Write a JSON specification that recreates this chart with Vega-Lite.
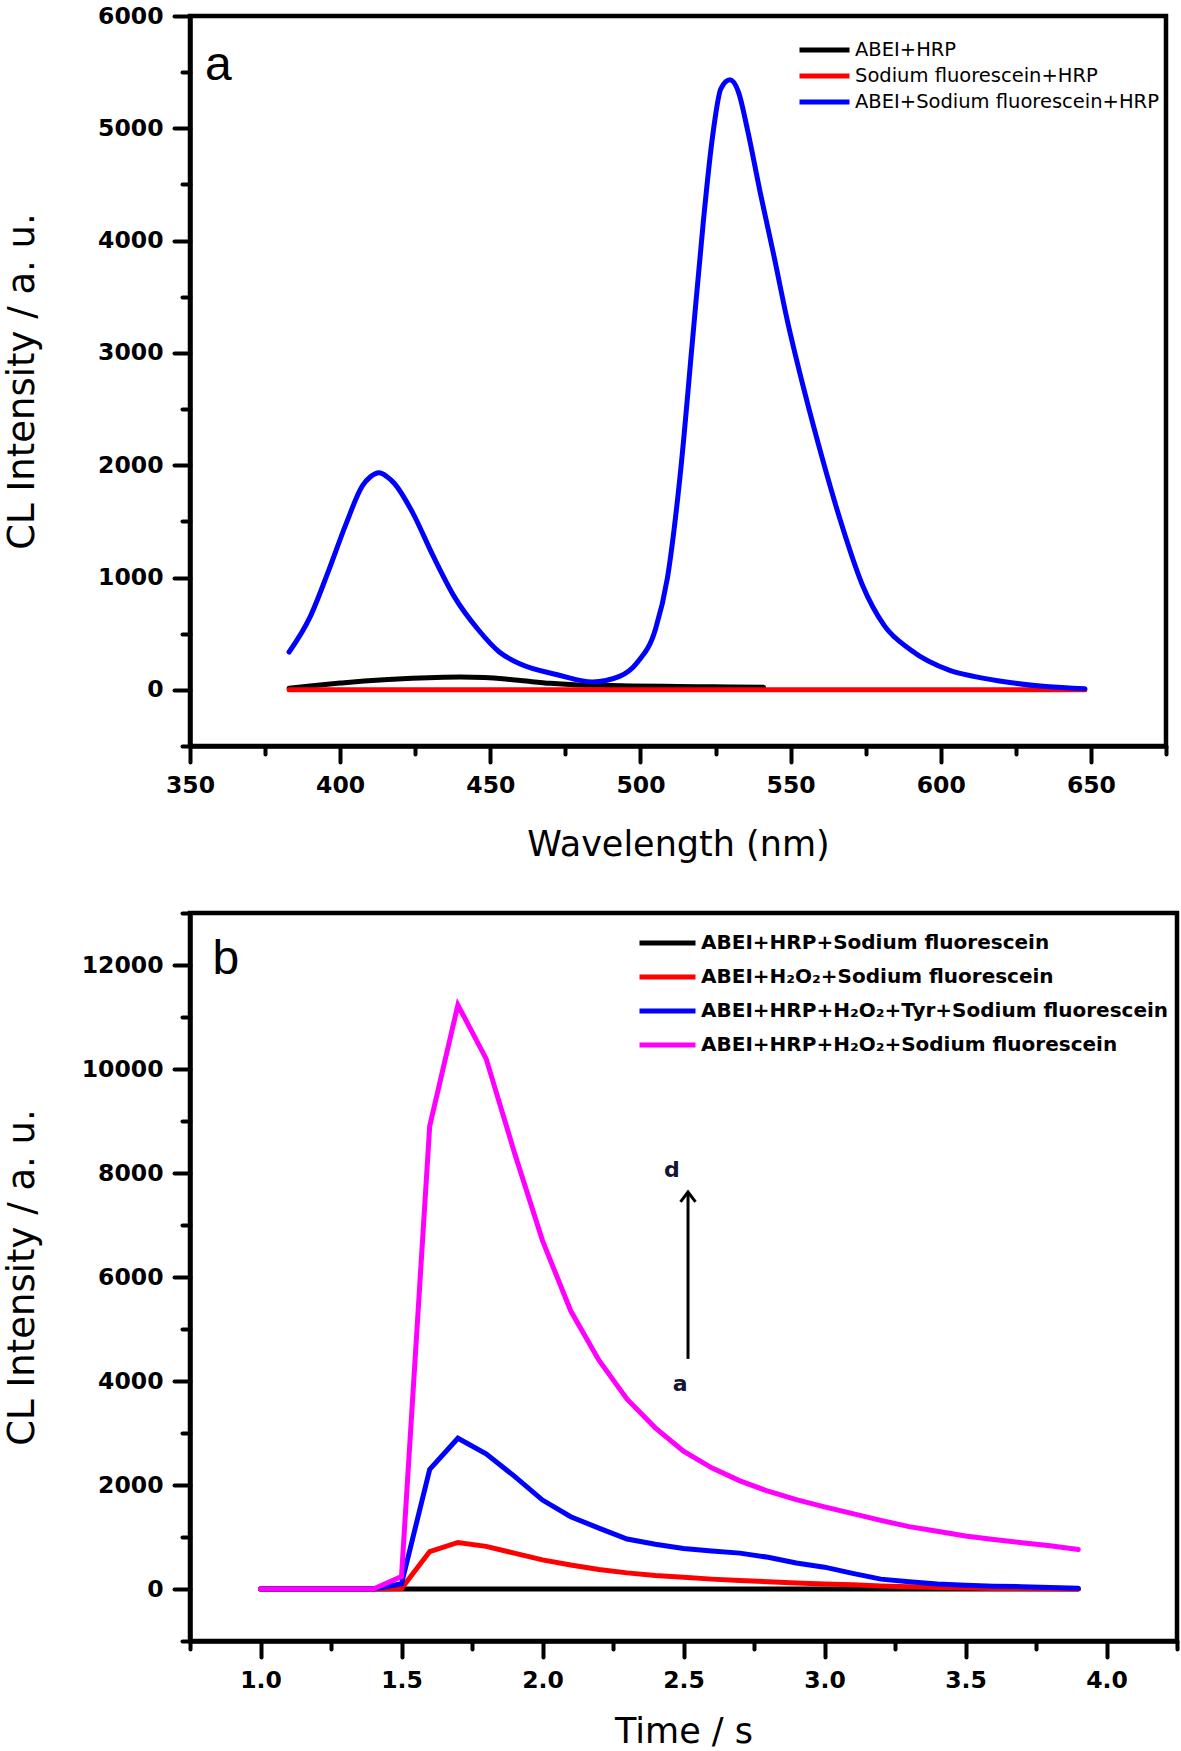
{
  "$schema": "https://vega.github.io/schema/vega-lite/v6.json",
  "background": "white",
  "padding": {"left": 0, "top": 1, "right": 0, "bottom": 0},
  "spacing": 33,
  "resolve": {"scale": {"color": "independent", "x": "independent", "y": "independent"}},
  "datasets": {
    "specA": [
      {"w": 383, "v": 15, "s": "ABEI+HRP"},
      {"w": 390, "v": 35, "s": "ABEI+HRP"},
      {"w": 400, "v": 60, "s": "ABEI+HRP"},
      {"w": 408, "v": 78, "s": "ABEI+HRP"},
      {"w": 416, "v": 92, "s": "ABEI+HRP"},
      {"w": 424, "v": 103, "s": "ABEI+HRP"},
      {"w": 432, "v": 111, "s": "ABEI+HRP"},
      {"w": 440, "v": 115, "s": "ABEI+HRP"},
      {"w": 448, "v": 110, "s": "ABEI+HRP"},
      {"w": 455, "v": 97, "s": "ABEI+HRP"},
      {"w": 462, "v": 78, "s": "ABEI+HRP"},
      {"w": 470, "v": 58, "s": "ABEI+HRP"},
      {"w": 478, "v": 46, "s": "ABEI+HRP"},
      {"w": 487, "v": 40, "s": "ABEI+HRP"},
      {"w": 497, "v": 35, "s": "ABEI+HRP"},
      {"w": 508, "v": 31, "s": "ABEI+HRP"},
      {"w": 519, "v": 28, "s": "ABEI+HRP"},
      {"w": 530, "v": 26, "s": "ABEI+HRP"},
      {"w": 541, "v": 24, "s": "ABEI+HRP"},
      {"w": 383, "v": 0, "s": "Sodium fluorescein+HRP"},
      {"w": 420, "v": 0, "s": "Sodium fluorescein+HRP"},
      {"w": 460, "v": 0, "s": "Sodium fluorescein+HRP"},
      {"w": 500, "v": 0, "s": "Sodium fluorescein+HRP"},
      {"w": 540, "v": 0, "s": "Sodium fluorescein+HRP"},
      {"w": 580, "v": 0, "s": "Sodium fluorescein+HRP"},
      {"w": 620, "v": 0, "s": "Sodium fluorescein+HRP"},
      {"w": 648, "v": 0, "s": "Sodium fluorescein+HRP"},
      {"w": 383, "v": 337, "s": "ABEI+Sodium fluorescein+HRP"},
      {"w": 390, "v": 650, "s": "ABEI+Sodium fluorescein+HRP"},
      {"w": 396, "v": 1050, "s": "ABEI+Sodium fluorescein+HRP"},
      {"w": 402, "v": 1480, "s": "ABEI+Sodium fluorescein+HRP"},
      {"w": 407.5, "v": 1820, "s": "ABEI+Sodium fluorescein+HRP"},
      {"w": 410, "v": 1895, "s": "ABEI+Sodium fluorescein+HRP"},
      {"w": 413, "v": 1932, "s": "ABEI+Sodium fluorescein+HRP"},
      {"w": 415.5, "v": 1900, "s": "ABEI+Sodium fluorescein+HRP"},
      {"w": 418, "v": 1840, "s": "ABEI+Sodium fluorescein+HRP"},
      {"w": 424, "v": 1585, "s": "ABEI+Sodium fluorescein+HRP"},
      {"w": 431, "v": 1190, "s": "ABEI+Sodium fluorescein+HRP"},
      {"w": 438, "v": 830, "s": "ABEI+Sodium fluorescein+HRP"},
      {"w": 446, "v": 535, "s": "ABEI+Sodium fluorescein+HRP"},
      {"w": 453, "v": 337, "s": "ABEI+Sodium fluorescein+HRP"},
      {"w": 460, "v": 230, "s": "ABEI+Sodium fluorescein+HRP"},
      {"w": 472, "v": 137, "s": "ABEI+Sodium fluorescein+HRP"},
      {"w": 484, "v": 70, "s": "ABEI+Sodium fluorescein+HRP"},
      {"w": 493, "v": 120, "s": "ABEI+Sodium fluorescein+HRP"},
      {"w": 499, "v": 246, "s": "ABEI+Sodium fluorescein+HRP"},
      {"w": 505, "v": 540, "s": "ABEI+Sodium fluorescein+HRP"},
      {"w": 509, "v": 1000, "s": "ABEI+Sodium fluorescein+HRP"},
      {"w": 513.5, "v": 1985, "s": "ABEI+Sodium fluorescein+HRP"},
      {"w": 517.2, "v": 3072, "s": "ABEI+Sodium fluorescein+HRP"},
      {"w": 520.9, "v": 4159, "s": "ABEI+Sodium fluorescein+HRP"},
      {"w": 523.8, "v": 4884, "s": "ABEI+Sodium fluorescein+HRP"},
      {"w": 526.8, "v": 5354, "s": "ABEI+Sodium fluorescein+HRP"},
      {"w": 529.8, "v": 5432, "s": "ABEI+Sodium fluorescein+HRP"},
      {"w": 532.7, "v": 5318, "s": "ABEI+Sodium fluorescein+HRP"},
      {"w": 535.6, "v": 4992, "s": "ABEI+Sodium fluorescein+HRP"},
      {"w": 540, "v": 4412, "s": "ABEI+Sodium fluorescein+HRP"},
      {"w": 544.4, "v": 3869, "s": "ABEI+Sodium fluorescein+HRP"},
      {"w": 548.9, "v": 3289, "s": "ABEI+Sodium fluorescein+HRP"},
      {"w": 554.8, "v": 2637, "s": "ABEI+Sodium fluorescein+HRP"},
      {"w": 560.6, "v": 2057, "s": "ABEI+Sodium fluorescein+HRP"},
      {"w": 566.5, "v": 1514, "s": "ABEI+Sodium fluorescein+HRP"},
      {"w": 573.9, "v": 934, "s": "ABEI+Sodium fluorescein+HRP"},
      {"w": 581.2, "v": 572, "s": "ABEI+Sodium fluorescein+HRP"},
      {"w": 590, "v": 355, "s": "ABEI+Sodium fluorescein+HRP"},
      {"w": 603, "v": 174, "s": "ABEI+Sodium fluorescein+HRP"},
      {"w": 611, "v": 120, "s": "ABEI+Sodium fluorescein+HRP"},
      {"w": 623, "v": 65, "s": "ABEI+Sodium fluorescein+HRP"},
      {"w": 635, "v": 30, "s": "ABEI+Sodium fluorescein+HRP"},
      {"w": 648, "v": 10, "s": "ABEI+Sodium fluorescein+HRP"}
    ],
    "specB": [
      {"t": 1.0, "v": 0, "s": "ABEI+HRP+Sodium fluorescein"},
      {"t": 1.1, "v": 0, "s": "ABEI+HRP+Sodium fluorescein"},
      {"t": 1.2, "v": 0, "s": "ABEI+HRP+Sodium fluorescein"},
      {"t": 1.3, "v": 0, "s": "ABEI+HRP+Sodium fluorescein"},
      {"t": 1.4, "v": 0, "s": "ABEI+HRP+Sodium fluorescein"},
      {"t": 1.5, "v": 0, "s": "ABEI+HRP+Sodium fluorescein"},
      {"t": 1.6, "v": 0, "s": "ABEI+HRP+Sodium fluorescein"},
      {"t": 1.7, "v": 0, "s": "ABEI+HRP+Sodium fluorescein"},
      {"t": 1.8, "v": 0, "s": "ABEI+HRP+Sodium fluorescein"},
      {"t": 1.9, "v": 0, "s": "ABEI+HRP+Sodium fluorescein"},
      {"t": 2.0, "v": 0, "s": "ABEI+HRP+Sodium fluorescein"},
      {"t": 2.1, "v": 0, "s": "ABEI+HRP+Sodium fluorescein"},
      {"t": 2.2, "v": 0, "s": "ABEI+HRP+Sodium fluorescein"},
      {"t": 2.3, "v": 0, "s": "ABEI+HRP+Sodium fluorescein"},
      {"t": 2.4, "v": 0, "s": "ABEI+HRP+Sodium fluorescein"},
      {"t": 2.5, "v": 0, "s": "ABEI+HRP+Sodium fluorescein"},
      {"t": 2.6, "v": 0, "s": "ABEI+HRP+Sodium fluorescein"},
      {"t": 2.7, "v": 0, "s": "ABEI+HRP+Sodium fluorescein"},
      {"t": 2.8, "v": 0, "s": "ABEI+HRP+Sodium fluorescein"},
      {"t": 2.9, "v": 0, "s": "ABEI+HRP+Sodium fluorescein"},
      {"t": 3.0, "v": 0, "s": "ABEI+HRP+Sodium fluorescein"},
      {"t": 3.1, "v": 0, "s": "ABEI+HRP+Sodium fluorescein"},
      {"t": 3.2, "v": 0, "s": "ABEI+HRP+Sodium fluorescein"},
      {"t": 3.3, "v": 0, "s": "ABEI+HRP+Sodium fluorescein"},
      {"t": 3.4, "v": 0, "s": "ABEI+HRP+Sodium fluorescein"},
      {"t": 3.5, "v": 0, "s": "ABEI+HRP+Sodium fluorescein"},
      {"t": 3.6, "v": 0, "s": "ABEI+HRP+Sodium fluorescein"},
      {"t": 3.7, "v": 0, "s": "ABEI+HRP+Sodium fluorescein"},
      {"t": 3.8, "v": 0, "s": "ABEI+HRP+Sodium fluorescein"},
      {"t": 3.9, "v": 0, "s": "ABEI+HRP+Sodium fluorescein"},
      {"t": 1.0, "v": 0, "s": "ABEI+H₂O₂+Sodium fluorescein"},
      {"t": 1.1, "v": 0, "s": "ABEI+H₂O₂+Sodium fluorescein"},
      {"t": 1.2, "v": 0, "s": "ABEI+H₂O₂+Sodium fluorescein"},
      {"t": 1.3, "v": 0, "s": "ABEI+H₂O₂+Sodium fluorescein"},
      {"t": 1.4, "v": 0, "s": "ABEI+H₂O₂+Sodium fluorescein"},
      {"t": 1.5, "v": 10, "s": "ABEI+H₂O₂+Sodium fluorescein"},
      {"t": 1.6, "v": 720, "s": "ABEI+H₂O₂+Sodium fluorescein"},
      {"t": 1.7, "v": 895, "s": "ABEI+H₂O₂+Sodium fluorescein"},
      {"t": 1.8, "v": 820, "s": "ABEI+H₂O₂+Sodium fluorescein"},
      {"t": 1.9, "v": 690, "s": "ABEI+H₂O₂+Sodium fluorescein"},
      {"t": 2.0, "v": 560, "s": "ABEI+H₂O₂+Sodium fluorescein"},
      {"t": 2.1, "v": 460, "s": "ABEI+H₂O₂+Sodium fluorescein"},
      {"t": 2.2, "v": 375, "s": "ABEI+H₂O₂+Sodium fluorescein"},
      {"t": 2.3, "v": 310, "s": "ABEI+H₂O₂+Sodium fluorescein"},
      {"t": 2.4, "v": 260, "s": "ABEI+H₂O₂+Sodium fluorescein"},
      {"t": 2.5, "v": 225, "s": "ABEI+H₂O₂+Sodium fluorescein"},
      {"t": 2.6, "v": 190, "s": "ABEI+H₂O₂+Sodium fluorescein"},
      {"t": 2.7, "v": 165, "s": "ABEI+H₂O₂+Sodium fluorescein"},
      {"t": 2.8, "v": 140, "s": "ABEI+H₂O₂+Sodium fluorescein"},
      {"t": 2.9, "v": 115, "s": "ABEI+H₂O₂+Sodium fluorescein"},
      {"t": 3.0, "v": 97, "s": "ABEI+H₂O₂+Sodium fluorescein"},
      {"t": 3.1, "v": 80, "s": "ABEI+H₂O₂+Sodium fluorescein"},
      {"t": 3.2, "v": 60, "s": "ABEI+H₂O₂+Sodium fluorescein"},
      {"t": 3.3, "v": 45, "s": "ABEI+H₂O₂+Sodium fluorescein"},
      {"t": 3.4, "v": 30, "s": "ABEI+H₂O₂+Sodium fluorescein"},
      {"t": 3.5, "v": 20, "s": "ABEI+H₂O₂+Sodium fluorescein"},
      {"t": 3.6, "v": 12, "s": "ABEI+H₂O₂+Sodium fluorescein"},
      {"t": 3.7, "v": 8, "s": "ABEI+H₂O₂+Sodium fluorescein"},
      {"t": 3.8, "v": 5, "s": "ABEI+H₂O₂+Sodium fluorescein"},
      {"t": 3.9, "v": 0, "s": "ABEI+H₂O₂+Sodium fluorescein"},
      {"t": 1.0, "v": 0, "s": "ABEI+HRP+H₂O₂+Tyr+Sodium fluorescein"},
      {"t": 1.1, "v": 0, "s": "ABEI+HRP+H₂O₂+Tyr+Sodium fluorescein"},
      {"t": 1.2, "v": 0, "s": "ABEI+HRP+H₂O₂+Tyr+Sodium fluorescein"},
      {"t": 1.3, "v": 0, "s": "ABEI+HRP+H₂O₂+Tyr+Sodium fluorescein"},
      {"t": 1.4, "v": 0, "s": "ABEI+HRP+H₂O₂+Tyr+Sodium fluorescein"},
      {"t": 1.5, "v": 100, "s": "ABEI+HRP+H₂O₂+Tyr+Sodium fluorescein"},
      {"t": 1.6, "v": 2300, "s": "ABEI+HRP+H₂O₂+Tyr+Sodium fluorescein"},
      {"t": 1.7, "v": 2900, "s": "ABEI+HRP+H₂O₂+Tyr+Sodium fluorescein"},
      {"t": 1.8, "v": 2600, "s": "ABEI+HRP+H₂O₂+Tyr+Sodium fluorescein"},
      {"t": 1.9, "v": 2170, "s": "ABEI+HRP+H₂O₂+Tyr+Sodium fluorescein"},
      {"t": 2.0, "v": 1710, "s": "ABEI+HRP+H₂O₂+Tyr+Sodium fluorescein"},
      {"t": 2.1, "v": 1390, "s": "ABEI+HRP+H₂O₂+Tyr+Sodium fluorescein"},
      {"t": 2.2, "v": 1170, "s": "ABEI+HRP+H₂O₂+Tyr+Sodium fluorescein"},
      {"t": 2.3, "v": 960, "s": "ABEI+HRP+H₂O₂+Tyr+Sodium fluorescein"},
      {"t": 2.4, "v": 860, "s": "ABEI+HRP+H₂O₂+Tyr+Sodium fluorescein"},
      {"t": 2.5, "v": 780, "s": "ABEI+HRP+H₂O₂+Tyr+Sodium fluorescein"},
      {"t": 2.6, "v": 730, "s": "ABEI+HRP+H₂O₂+Tyr+Sodium fluorescein"},
      {"t": 2.7, "v": 690, "s": "ABEI+HRP+H₂O₂+Tyr+Sodium fluorescein"},
      {"t": 2.8, "v": 610, "s": "ABEI+HRP+H₂O₂+Tyr+Sodium fluorescein"},
      {"t": 2.9, "v": 500, "s": "ABEI+HRP+H₂O₂+Tyr+Sodium fluorescein"},
      {"t": 3.0, "v": 420, "s": "ABEI+HRP+H₂O₂+Tyr+Sodium fluorescein"},
      {"t": 3.1, "v": 300, "s": "ABEI+HRP+H₂O₂+Tyr+Sodium fluorescein"},
      {"t": 3.2, "v": 190, "s": "ABEI+HRP+H₂O₂+Tyr+Sodium fluorescein"},
      {"t": 3.3, "v": 140, "s": "ABEI+HRP+H₂O₂+Tyr+Sodium fluorescein"},
      {"t": 3.4, "v": 95, "s": "ABEI+HRP+H₂O₂+Tyr+Sodium fluorescein"},
      {"t": 3.5, "v": 70, "s": "ABEI+HRP+H₂O₂+Tyr+Sodium fluorescein"},
      {"t": 3.6, "v": 55, "s": "ABEI+HRP+H₂O₂+Tyr+Sodium fluorescein"},
      {"t": 3.7, "v": 45, "s": "ABEI+HRP+H₂O₂+Tyr+Sodium fluorescein"},
      {"t": 3.8, "v": 30, "s": "ABEI+HRP+H₂O₂+Tyr+Sodium fluorescein"},
      {"t": 3.9, "v": 15, "s": "ABEI+HRP+H₂O₂+Tyr+Sodium fluorescein"},
      {"t": 1.0, "v": 0, "s": "ABEI+HRP+H₂O₂+Sodium fluorescein"},
      {"t": 1.1, "v": 0, "s": "ABEI+HRP+H₂O₂+Sodium fluorescein"},
      {"t": 1.2, "v": 0, "s": "ABEI+HRP+H₂O₂+Sodium fluorescein"},
      {"t": 1.3, "v": 0, "s": "ABEI+HRP+H₂O₂+Sodium fluorescein"},
      {"t": 1.4, "v": 0, "s": "ABEI+HRP+H₂O₂+Sodium fluorescein"},
      {"t": 1.5, "v": 240, "s": "ABEI+HRP+H₂O₂+Sodium fluorescein"},
      {"t": 1.6, "v": 8900, "s": "ABEI+HRP+H₂O₂+Sodium fluorescein"},
      {"t": 1.7, "v": 11230, "s": "ABEI+HRP+H₂O₂+Sodium fluorescein"},
      {"t": 1.8, "v": 10200, "s": "ABEI+HRP+H₂O₂+Sodium fluorescein"},
      {"t": 1.9, "v": 8400, "s": "ABEI+HRP+H₂O₂+Sodium fluorescein"},
      {"t": 2.0, "v": 6700, "s": "ABEI+HRP+H₂O₂+Sodium fluorescein"},
      {"t": 2.1, "v": 5350, "s": "ABEI+HRP+H₂O₂+Sodium fluorescein"},
      {"t": 2.2, "v": 4400, "s": "ABEI+HRP+H₂O₂+Sodium fluorescein"},
      {"t": 2.3, "v": 3650, "s": "ABEI+HRP+H₂O₂+Sodium fluorescein"},
      {"t": 2.4, "v": 3100, "s": "ABEI+HRP+H₂O₂+Sodium fluorescein"},
      {"t": 2.5, "v": 2650, "s": "ABEI+HRP+H₂O₂+Sodium fluorescein"},
      {"t": 2.6, "v": 2330, "s": "ABEI+HRP+H₂O₂+Sodium fluorescein"},
      {"t": 2.7, "v": 2080, "s": "ABEI+HRP+H₂O₂+Sodium fluorescein"},
      {"t": 2.8, "v": 1880, "s": "ABEI+HRP+H₂O₂+Sodium fluorescein"},
      {"t": 2.9, "v": 1720, "s": "ABEI+HRP+H₂O₂+Sodium fluorescein"},
      {"t": 3.0, "v": 1580, "s": "ABEI+HRP+H₂O₂+Sodium fluorescein"},
      {"t": 3.1, "v": 1450, "s": "ABEI+HRP+H₂O₂+Sodium fluorescein"},
      {"t": 3.2, "v": 1320, "s": "ABEI+HRP+H₂O₂+Sodium fluorescein"},
      {"t": 3.3, "v": 1200, "s": "ABEI+HRP+H₂O₂+Sodium fluorescein"},
      {"t": 3.4, "v": 1110, "s": "ABEI+HRP+H₂O₂+Sodium fluorescein"},
      {"t": 3.5, "v": 1020, "s": "ABEI+HRP+H₂O₂+Sodium fluorescein"},
      {"t": 3.6, "v": 950, "s": "ABEI+HRP+H₂O₂+Sodium fluorescein"},
      {"t": 3.7, "v": 890, "s": "ABEI+HRP+H₂O₂+Sodium fluorescein"},
      {"t": 3.8, "v": 830, "s": "ABEI+HRP+H₂O₂+Sodium fluorescein"},
      {"t": 3.9, "v": 760, "s": "ABEI+HRP+H₂O₂+Sodium fluorescein"}
    ]
  },
  "vconcat": [
    {
      "width": 976,
      "height": 730,
      "layer": [
        {
          "data": {"name": "specA"},
          "mark": {"type": "line", "strokeWidth": 5, "interpolate": "monotone", "strokeCap": "round"},
          "encoding": {
            "x": {"field": "w", "type": "quantitative",
              "scale": {"domain": [350, 675], "nice": false, "zero": false},
              "axis": {"title": "Wavelength (nm)", "titleFontSize": 35, "titlePadding": 31, "format": "d",
                "values": [350, 375, 400, 425, 450, 475, 500, 525, 550, 575, 600, 625, 650, 675],
                "labelExpr": "datum.value % 50 === 0 ? datum.label : ''",
                "labelPadding": 11,
                "tickSize": {"condition": {"test": "datum.value % 50 === 0", "value": 16}, "value": 8}}},
            "y": {"field": "v", "type": "quantitative",
              "scale": {"domain": [-500, 6000], "nice": false, "zero": false},
              "axis": {"title": "CL Intensity / a. u.", "titleFontSize": 37, "titlePadding": 56, "format": "d",
                "values": [-500, 0, 500, 1000, 1500, 2000, 2500, 3000, 3500, 4000, 4500, 5000, 5500, 6000],
                "labelExpr": "datum.value % 1000 === 0 ? datum.label : ''",
                "labelPadding": 11,
                "tickSize": {"condition": {"test": "datum.value % 1000 === 0", "value": 16}, "value": 8}}},
            "color": {"field": "s", "type": "nominal", "sort": null,
              "scale": {"domain": ["ABEI+HRP", "Sodium fluorescein+HRP", "ABEI+Sodium fluorescein+HRP"],
                "range": ["#000000", "#ff0000", "#0000ff"]},
              "legend": {"title": null, "orient": "none", "legendX": 607, "legendY": 23, "padding": 0,
                "symbolType": "stroke", "symbolSize": 2500, "symbolStrokeWidth": 5, "symbolOffset": 0,
                "clipHeight": 22,
                "labelFont": "DejaVu Sans", "labelFontSize": 19.5, "labelFontWeight": "normal", "labelColor": "black",
                "labelOffset": 3, "rowPadding": 4, "labelLimit": 600}}
          }
        },
        {
          "data": {"values": [{"w": 355, "v": 5430, "label": "a"}]},
          "mark": {"type": "text", "font": "Liberation Sans", "fontSize": 48, "align": "left", "baseline": "alphabetic", "color": "black"},
          "encoding": {
            "x": {"field": "w", "type": "quantitative"},
            "y": {"field": "v", "type": "quantitative"},
            "text": {"field": "label"}
          }
        }
      ]
    },
    {
      "width": 987,
      "height": 728,
      "layer": [
        {
          "data": {"name": "specB"},
          "mark": {"type": "line", "strokeWidth": 5, "strokeCap": "round"},
          "encoding": {
            "x": {"field": "t", "type": "quantitative",
              "scale": {"domain": [0.75, 4.25], "nice": false, "zero": false},
              "axis": {"title": "Time / s", "titleFontSize": 35, "titlePadding": 23, "format": ".1f",
                "values": [0.75, 1.0, 1.25, 1.5, 1.75, 2.0, 2.25, 2.5, 2.75, 3.0, 3.25, 3.5, 3.75, 4.0, 4.25],
                "labelExpr": "abs(datum.value * 2 - round(datum.value * 2)) < 0.001 ? datum.label : ''",
                "labelPadding": 11,
                "tickSize": {"condition": {"test": "abs(datum.value * 2 - round(datum.value * 2)) < 0.001", "value": 16}, "value": 8}}},
            "y": {"field": "v", "type": "quantitative",
              "scale": {"domain": [-1000, 13000], "nice": false, "zero": false},
              "axis": {"title": "CL Intensity / a. u.", "titleFontSize": 37, "titlePadding": 40, "format": "d",
                "values": [-1000, 0, 1000, 2000, 3000, 4000, 5000, 6000, 7000, 8000, 9000, 10000, 11000, 12000, 13000],
                "labelExpr": "datum.value % 2000 === 0 ? datum.label : ''",
                "labelPadding": 11,
                "tickSize": {"condition": {"test": "datum.value % 2000 === 0", "value": 16}, "value": 8}}},
            "color": {"field": "s", "type": "nominal", "sort": null,
              "scale": {"domain": ["ABEI+HRP+Sodium fluorescein", "ABEI+H₂O₂+Sodium fluorescein", "ABEI+HRP+H₂O₂+Tyr+Sodium fluorescein", "ABEI+HRP+H₂O₂+Sodium fluorescein"],
                "range": ["#000000", "#ff0000", "#0000ff", "#ff00ff"]},
              "legend": {"title": null, "orient": "none", "legendX": 447, "legendY": 18, "padding": 0,
                "symbolType": "stroke", "symbolSize": 3136, "symbolStrokeWidth": 5, "symbolOffset": 0,
                "clipHeight": 24,
                "labelFont": "DejaVu Sans", "labelFontSize": 20, "labelFontWeight": "bold", "labelColor": "black",
                "labelOffset": 3, "rowPadding": 10, "labelLimit": 700}}
          }
        },
        {
          "data": {"values": [{"t": 2.516, "v": 4425, "v2": 7610}]},
          "mark": {"type": "rule", "color": "black", "strokeWidth": 3},
          "encoding": {
            "x": {"field": "t", "type": "quantitative"},
            "y": {"field": "v", "type": "quantitative"},
            "y2": {"field": "v2"}
          }
        },
        {
          "data": {"values": [{"t": 2.516, "v": 7633}]},
          "mark": {"type": "point", "shape": "M-1,1.3L0,0L1,1.3", "size": 225, "filled": false, "stroke": "black", "strokeWidth": 3, "opacity": 1},
          "encoding": {
            "x": {"field": "t", "type": "quantitative"},
            "y": {"field": "v", "type": "quantitative"}
          }
        },
        {
          "data": {"values": [{"t": 2.459, "v": 8058, "label": "d"}, {"t": 2.488, "v": 3942, "label": "a"}]},
          "mark": {"type": "text", "font": "DejaVu Sans", "fontWeight": "bold", "fontSize": 22, "align": "center", "baseline": "middle", "color": "#141432"},
          "encoding": {
            "x": {"field": "t", "type": "quantitative"},
            "y": {"field": "v", "type": "quantitative"},
            "text": {"field": "label"}
          }
        },
        {
          "data": {"values": [{"t": 0.83, "v": 11826, "label": "b"}]},
          "mark": {"type": "text", "font": "Liberation Sans", "fontSize": 48, "align": "left", "baseline": "alphabetic", "color": "black"},
          "encoding": {
            "x": {"field": "t", "type": "quantitative"},
            "y": {"field": "v", "type": "quantitative"},
            "text": {"field": "label"}
          }
        }
      ]
    }
  ],
  "config": {
    "font": "DejaVu Sans",
    "view": {"stroke": "black", "strokeWidth": 4.5},
    "axis": {
      "grid": false,
      "domainColor": "black", "domainWidth": 4.5,
      "tickColor": "black", "tickWidth": 4, "tickCap": "round",
      "labelFont": "DejaVu Sans", "labelFontWeight": "bold", "labelFontSize": 23.5, "labelColor": "black",
      "labelOverlap": false, "labelFlush": false,
      "titleFont": "DejaVu Sans", "titleFontWeight": "normal", "titleColor": "black"
    }
  }
}
